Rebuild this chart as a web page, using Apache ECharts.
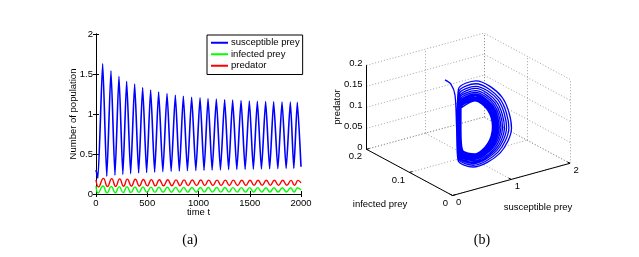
<!DOCTYPE html>
<html><head><meta charset="utf-8">
<script src="https://cdn.jsdelivr.net/npm/echarts@6/dist/echarts.min.js"></script>
<style>html,body{margin:0;padding:0;background:#fff}#c{width:639px;height:257px}</style>
</head><body><div id="c"></div>
<script>
// ---------- panel (a): time series ----------
const seriesNames = ['susceptible prey', 'infected prey', 'predator'];
const timeTicks = [0, 500, 1000, 1500, 2000];
const popTicks = [0, 0.5, 1, 1.5, 2];

const susT = [0,18,65,105,146,185,224,262,299,338,377,416,455,494,533,572,611,652,693,733,774,813,852,892,933,974,1015,1054,1093,1133,1174,1214,1255,1294,1333,1374,1415,1455,1496,1535,1574,1614,1655,1694,1733,1774,1815,1855,1896,1930,1964,2000];
const susV = [0.30,0.20,1.63,0.22,1.54,0.235,1.47,0.245,1.41,0.255,1.375,0.262,1.33,0.268,1.30,0.274,1.275,0.279,1.255,0.283,1.235,0.287,1.222,0.291,1.21,0.294,1.202,0.297,1.193,0.30,1.186,0.302,1.178,0.305,1.173,0.307,1.168,0.309,1.163,0.311,1.159,0.313,1.156,0.315,1.153,0.317,1.15,0.319,1.148,0.32,1.146,0.34];

const infT = [0,21,68,108,149,188,227,265,302,341,380,419,458,497,536,575,614,655,696,736,777,816,855,895,936,977,1018,1057,1096,1136,1177,1217,1258,1297,1336,1377,1418,1458,1499,1538,1577,1617,1658,1697,1736,1777,1818,1858,1899,1933,1967,2000];
const infV = [0.10,0.012,0.100,0.014,0.095,0.016,0.092,0.017,0.090,0.018,0.088,0.019,0.087,0.020,0.086,0.020,0.085,0.021,0.084,0.021,0.083,0.022,0.083,0.022,0.082,0.022,0.082,0.023,0.081,0.023,0.081,0.023,0.081,0.023,0.080,0.024,0.080,0.024,0.080,0.024,0.080,0.024,0.079,0.024,0.079,0.025,0.079,0.025,0.079,0.025,0.079,0.05];

const predT = [0,25,72,112,153,192,231,269,306,345,384,423,462,501,540,579,618,659,700,740,781,820,859,899,940,981,1022,1061,1100,1140,1181,1221,1262,1301,1340,1381,1422,1462,1503,1542,1581,1621,1662,1701,1740,1781,1822,1862,1903,1937,1971,2000];
const predV = [0.175,0.088,0.195,0.092,0.192,0.095,0.189,0.097,0.186,0.099,0.184,0.100,0.182,0.101,0.180,0.102,0.179,0.103,0.178,0.104,0.177,0.104,0.176,0.105,0.175,0.105,0.175,0.106,0.174,0.106,0.174,0.106,0.173,0.107,0.173,0.107,0.172,0.107,0.172,0.108,0.172,0.108,0.171,0.108,0.171,0.108,0.171,0.109,0.170,0.109,0.170,0.14];

// ---------- panel (b): phase portrait (S, I, P) ----------
const sTicks = [0, 1, 2];
const iTicks = [0, 0.1, 0.2];
const pTicks = [0, 0.05, 0.1, 0.15, 0.2];
const bS = [0.604,0.597,0.518,
 0.361,0.240,0.459,1.028,1.590,1.574,1.059,
 0.613,0.372,0.251,0.463,0.998,1.545,1.540,1.057,
 0.619,0.381,0.260,0.468,0.973,1.506,1.510,1.055,
 0.625,0.389,0.268,0.471,0.949,1.470,1.483,1.053,
 0.630,0.397,0.276,0.475,0.928,1.438,1.458,1.051,
 0.635,0.404,0.283,0.478,0.909,1.409,1.436,1.050,
 0.639,0.410,0.289,0.481,0.892,1.383,1.417,1.048,
 0.642,0.415,0.294,0.483,0.877,1.360,1.399,1.047,
 0.645,0.420,0.299,0.485,0.864,1.341,1.385,1.046,
 0.648,0.423,0.303,0.487,0.853,1.324,1.372,1.045,
 0.650,0.427,0.306,0.488,0.844,1.310,1.361,1.044,
 0.652,0.430,0.309,0.490,0.835,1.297,1.351,1.044,
 0.654,0.432,0.312,0.491,0.828,1.285,1.343,1.043,
 0.656,0.435,0.314,0.492,0.821,1.276,1.335,1.043,
 0.657,0.437,0.317,0.493,0.815,1.266,1.328,1.042,
 0.657];
const bI = [0.10,0.085,0.065,
 0.04,0.02,0.015,0.03,0.08,0.10,0.09,
 0.07,0.04,0.02,0.015,0.03,0.08,0.10,0.09,
 0.07,0.04,0.02,0.015,0.03,0.08,0.10,0.09,
 0.07,0.04,0.02,0.015,0.03,0.08,0.10,0.09,
 0.07,0.04,0.02,0.015,0.03,0.08,0.10,0.09,
 0.07,0.04,0.02,0.015,0.03,0.08,0.10,0.09,
 0.07,0.04,0.02,0.015,0.03,0.08,0.10,0.09,
 0.07,0.04,0.02,0.015,0.03,0.08,0.10,0.09,
 0.07,0.04,0.02,0.015,0.03,0.08,0.10,0.09,
 0.07,0.04,0.02,0.015,0.03,0.08,0.10,0.09,
 0.07,0.04,0.02,0.015,0.03,0.08,0.10,0.09,
 0.07,0.04,0.02,0.015,0.03,0.08,0.10,0.09,
 0.07,0.04,0.02,0.015,0.03,0.08,0.10,0.09,
 0.07,0.04,0.02,0.015,0.03,0.08,0.10,0.09,
 0.07,0.04,0.02,0.015,0.03,0.08,0.10,0.09,
 0.07];
const bP = [0.197,0.195,0.184,
 0.132,0.064,0.042,0.045,0.056,0.119,0.183,
 0.191,0.130,0.067,0.046,0.049,0.058,0.116,0.176,
 0.185,0.128,0.070,0.050,0.053,0.060,0.114,0.170,
 0.179,0.127,0.072,0.053,0.056,0.061,0.111,0.165,
 0.173,0.125,0.074,0.056,0.059,0.063,0.109,0.160,
 0.169,0.124,0.076,0.059,0.062,0.064,0.107,0.156,
 0.164,0.123,0.078,0.061,0.064,0.065,0.105,0.152,
 0.160,0.122,0.079,0.063,0.066,0.066,0.104,0.149,
 0.157,0.121,0.080,0.065,0.068,0.067,0.103,0.146,
 0.154,0.120,0.081,0.066,0.070,0.068,0.102,0.144,
 0.152,0.119,0.082,0.068,0.071,0.069,0.101,0.142,
 0.150,0.119,0.083,0.069,0.072,0.069,0.100,0.140,
 0.148,0.118,0.084,0.070,0.073,0.070,0.099,0.138,
 0.146,0.118,0.085,0.071,0.074,0.070,0.098,0.137,
 0.145,0.117,0.085,0.072,0.075,0.071,0.098,0.136,
 0.145];

// ---------- 3D view (orthographic projection of the plot box) ----------
const S_MAX = sTicks[sTicks.length-1], I_MAX = iTicks[iTicks.length-1], P_MAX = pTicks[pTicks.length-1];
const VIEW = { s: [117.5, 32.2], i: [-86, 46.2], p: [0, 84] };
function proj(S, I, P) {
  const s = S / S_MAX, i = I / I_MAX, p = P / P_MAX;
  return [VIEW.s[0]*s + VIEW.i[0]*i + VIEW.p[0]*p, VIEW.s[1]*s + VIEW.i[1]*i + VIEW.p[1]*p];
}
const PX_MIN = VIEW.i[0], PX_MAX = VIEW.s[0];
const PY_MAX = VIEW.s[1] + VIEW.i[1] + VIEW.p[1];

const gridSegs = [];
const seg = (a, b) => ({ coords: [proj(...a), proj(...b)] });
sTicks.forEach(s => { gridSegs.push(seg([s,0,0],[s,I_MAX,0])); gridSegs.push(seg([s,I_MAX,0],[s,I_MAX,P_MAX])); });
iTicks.forEach(i => { gridSegs.push(seg([0,i,0],[S_MAX,i,0])); gridSegs.push(seg([S_MAX,i,0],[S_MAX,i,P_MAX])); });
pTicks.forEach(p => { gridSegs.push(seg([0,I_MAX,p],[S_MAX,I_MAX,p])); gridSegs.push(seg([S_MAX,0,p],[S_MAX,I_MAX,p])); });
const axisSegs = [seg([0,0,0],[S_MAX,0,0]), seg([0,0,0],[0,I_MAX,0]), seg([0,I_MAX,0],[0,I_MAX,P_MAX])];
sTicks.forEach(s => axisSegs.push(seg([s,0,0],[s,I_MAX*0.03,0])));
iTicks.forEach(i => axisSegs.push(seg([0,i,0],[S_MAX*0.025,i,0])));
pTicks.forEach(p => axisSegs.push(seg([0,I_MAX,p],[-S_MAX*0.025,I_MAX,p])));

const FONT = 'Liberation Sans';
const FS = 9.5;

const mkLine = (T, V, color, w, smooth) => ({
  type: 'line', xAxisIndex: 0, yAxisIndex: 0, showSymbol: false, smooth: smooth,
  lineStyle: { color: color, width: w }, itemStyle: { color: color },
  data: T.map((t, k) => [t, V[k]])
});

const chart = echarts.init(document.getElementById('c'), null, { renderer: 'canvas' });
const axisBase = { lineStyle: { color: '#000', width: 1 } };
const plain = v => String(v);
chart.setOption({
  animation: false,
  backgroundColor: '#fff',
  grid: [
    { left: 96, top: 34, width: 205, height: 160 },
    { left: 452.5 + PX_MIN, top: 195.5 - PY_MAX, width: PX_MAX - PX_MIN, height: PY_MAX }
  ],
  xAxis: [
    { type: 'value', gridIndex: 0, min: timeTicks[0], max: timeTicks[4], interval: timeTicks[1]-timeTicks[0], position: 'bottom',
      axisLine: axisBase, axisTick: { inside: true, length: 3, lineStyle: { color: '#000' } },
      axisLabel: { fontFamily: FONT, fontSize: FS, color: '#000', margin: 4, formatter: plain }, splitLine: { show: false },
      name: 'time t', nameLocation: 'middle', nameGap: 13.5, nameMoveOverlap: false,
      nameTextStyle: { fontFamily: FONT, fontSize: FS, color: '#000', verticalAlign: 'top' } },
    { type: 'value', gridIndex: 0, min: timeTicks[0], max: timeTicks[4], interval: timeTicks[1]-timeTicks[0], position: 'top',
      axisLine: axisBase, axisTick: { inside: true, length: 3, lineStyle: { color: '#000' } },
      axisLabel: { show: false }, splitLine: { show: false } },
    { type: 'value', gridIndex: 1, min: PX_MIN, max: PX_MAX, show: false }
  ],
  yAxis: [
    { type: 'value', gridIndex: 0, min: popTicks[0], max: popTicks[4], interval: popTicks[1]-popTicks[0], position: 'left',
      axisLine: axisBase, axisTick: { inside: true, length: 3, lineStyle: { color: '#000' } },
      axisLabel: { fontFamily: FONT, fontSize: FS, color: '#000', margin: 3, formatter: plain }, splitLine: { show: false },
      name: 'Number of population', nameLocation: 'middle', nameGap: 18, nameRotate: 90, nameMoveOverlap: false,
      nameTextStyle: { fontFamily: FONT, fontSize: FS, color: '#000' } },
    { type: 'value', gridIndex: 0, min: popTicks[0], max: popTicks[4], interval: popTicks[1]-popTicks[0], position: 'right',
      axisLine: axisBase, axisTick: { inside: true, length: 3, lineStyle: { color: '#000' } },
      axisLabel: { show: false }, splitLine: { show: false } },
    { type: 'value', gridIndex: 1, min: 0, max: PY_MAX, show: false }
  ],
  legend: {
    data: seriesNames, orient: 'vertical', left: 207, top: 35, icon: 'rect', itemWidth: 17, itemHeight: 2, itemGap: 0,
    padding: [2, 3, 3, 4], backgroundColor: '#fff', borderColor: '#000', borderWidth: 1,
    textStyle: { fontFamily: FONT, fontSize: FS, color: '#000', lineHeight: 11.5, padding: [0, 0, 0, -2] }
  },
  series: [
    Object.assign(mkLine(susT, susV, '#0000ff', 1.6, 0.2), { name: seriesNames[0] }),
    Object.assign(mkLine(infT, infV, '#00ff00', 1.4, 0.5), { name: seriesNames[1] }),
    Object.assign(mkLine(predT, predV, '#ff0000', 1.4, 0.5), { name: seriesNames[2] }),
    { type: 'lines', coordinateSystem: 'cartesian2d', xAxisIndex: 2, yAxisIndex: 2, silent: true,
      lineStyle: { color: '#8a8a8a', width: 0.8, type: [1, 2], opacity: 1 }, data: gridSegs },
    { type: 'lines', coordinateSystem: 'cartesian2d', xAxisIndex: 2, yAxisIndex: 2, silent: true,
      lineStyle: { color: '#000', width: 1, opacity: 1 }, data: axisSegs },
    { type: 'line', xAxisIndex: 2, yAxisIndex: 2, showSymbol: false, smooth: 0.3, clip: false, silent: true,
      lineStyle: { color: '#0000ff', width: 1.3 }, data: bS.map((s, k) => proj(s, bI[k], bP[k])) }
  ]
});

// tick labels of the 3D box, placed through the hidden axes' scales
const toPx = (S, I, P) => chart.convertToPixel({ xAxisIndex: 2, yAxisIndex: 2 }, proj(S, I, P));
const txt = (pt, dx, dy, text, align) => ({ type: 'text', x: pt[0] + dx, y: pt[1] + dy, z: 100,
  style: { text: text, fontFamily: FONT, fontSize: FS, fill: '#000', align: align, verticalAlign: 'middle' } });
const graphics = [];
sTicks.forEach(s => graphics.push(txt(toPx(s, 0, 0), 3.5, 7, String(s), 'left')));
iTicks.forEach(i => graphics.push(txt(toPx(0, i, 0), -4.5, 7.5, String(i), 'right')));
pTicks.forEach(p => graphics.push(txt(toPx(0, I_MAX, p), -4, -1.5, String(p), 'right')));
graphics.push(
  { type: 'text', x: 337, y: 107, rotation: Math.PI/2, style: { text: 'predator', fontFamily: FONT, fontSize: FS, fill: '#000', align: 'center', verticalAlign: 'middle' } },
  { type: 'text', x: 380, y: 204, style: { text: 'infected prey', fontFamily: FONT, fontSize: FS, fill: '#000', align: 'center', verticalAlign: 'middle' } },
  { type: 'text', x: 538, y: 207, style: { text: 'susceptible prey', fontFamily: FONT, fontSize: FS, fill: '#000', align: 'center', verticalAlign: 'middle' } },
  { type: 'text', x: 190, y: 240, style: { text: '(a)', fontFamily: 'Liberation Serif', fontSize: 14, fill: '#000', align: 'center', verticalAlign: 'middle' } },
  { type: 'text', x: 482, y: 240, style: { text: '(b)', fontFamily: 'Liberation Serif', fontSize: 14, fill: '#000', align: 'center', verticalAlign: 'middle' } }
);
chart.setOption({ graphic: graphics });
</script></body></html>
